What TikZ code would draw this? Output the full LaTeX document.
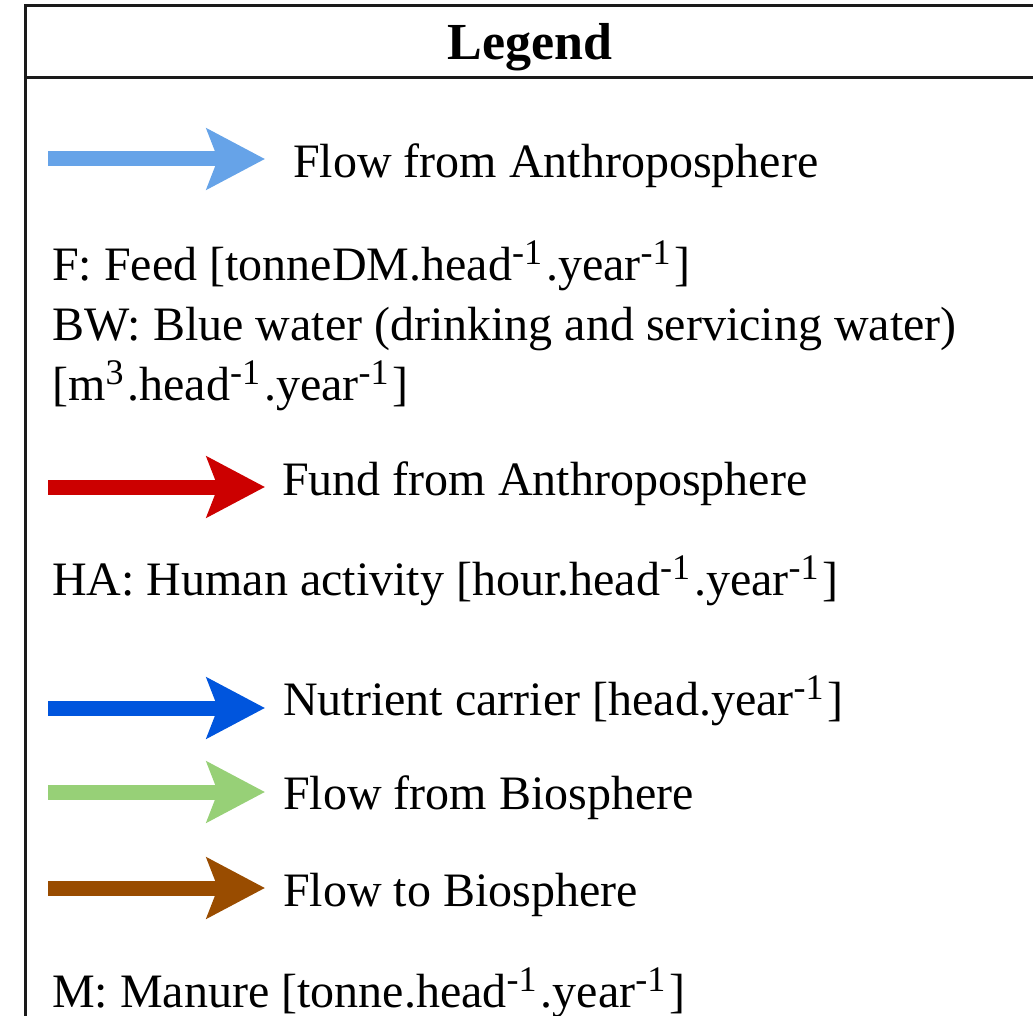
\documentclass[tikz,border=0pt]{standalone}
\usepackage{fontspec}
\setmainfont{Liberation Serif}
\usetikzlibrary{arrows.meta}
\definecolor{flowanthro}{HTML}{66A3E8}
\definecolor{fundanthro}{HTML}{CC0000}
\definecolor{nutrient}{HTML}{0055DD}
\definecolor{flowbio}{HTML}{97D077}
\definecolor{tobio}{HTML}{994C00}
\definecolor{frame}{HTML}{1A1A1A}
% unit exponents, set raised and fairly large, with a small gap after
\newcommand\legsup[1]{\raisebox{16pt}{\fontsize{36}{40}\selectfont #1}\kern4pt}
\begin{document}
\begin{tikzpicture}[x=1pt,y=-1pt,
  legarrow/.style={line width=15pt, -{Stealth[length=58pt,width=60pt,inset=11pt]}},
  legtext/.style={anchor=base west, inner sep=0pt, font=\fontsize{48}{58}\selectfont},
  frameline/.style={draw=frame, line width=3pt},
]
\clip (0,0) rectangle (1033,1016);
% legend frame and title bar
\draw[frameline] (25,6) rectangle (1050,1040);
\draw[frameline] (25,78) -- (1050,78);
\node[anchor=base, inner sep=0pt, font=\bfseries\fontsize{52}{60}\selectfont] (title) at (530,60) {Legend};

% flow from anthroposphere
\coordinate (a1s) at (48,159);
\coordinate (a1e) at (265,159);
\draw[legarrow, draw=flowanthro] (a1s) -- (a1e);
\node[legtext] (t1) at (293,178) {Flow from Anthroposphere};
\node[legtext] (t2) at (52,280) {F: Feed [tonneDM.head\legsup{-1}.year\legsup{-1}]};
\node[legtext] (t3) at (52,340) {BW: Blue water (drinking and servicing water)};
\node[legtext] (t4) at (52,400) {[m\legsup{3}.head\legsup{-1}.year\legsup{-1}]};

% fund from anthroposphere
\coordinate (a2s) at (48,487);
\coordinate (a2e) at (265,487);
\draw[legarrow, draw=fundanthro] (a2s) -- (a2e);
\node[legtext] (t5) at (282,495) {Fund from Anthroposphere};
\node[legtext] (t6) at (52,595) {HA: Human activity [hour.head\legsup{-1}.year\legsup{-1}]};

% nutrient carrier
\coordinate (a3s) at (48,708);
\coordinate (a3e) at (265,708);
\draw[legarrow, draw=nutrient] (a3s) -- (a3e);
\node[legtext] (t7) at (283,715) {Nutrient carrier [head.year\legsup{-1}]};

% flow from biosphere
\coordinate (a4s) at (48,792);
\coordinate (a4e) at (265,792);
\draw[legarrow, draw=flowbio] (a4s) -- (a4e);
\node[legtext] (t8) at (283,809) {Flow from Biosphere};

% flow to biosphere
\coordinate (a5s) at (48,888);
\coordinate (a5e) at (265,888);
\draw[legarrow, draw=tobio] (a5s) -- (a5e);
\node[legtext] (t9) at (283,906) {Flow to Biosphere};
\node[legtext] (t10) at (52,1007) {M: Manure [tonne.head\legsup{-1}.year\legsup{-1}]};
\end{tikzpicture}
\end{document}
